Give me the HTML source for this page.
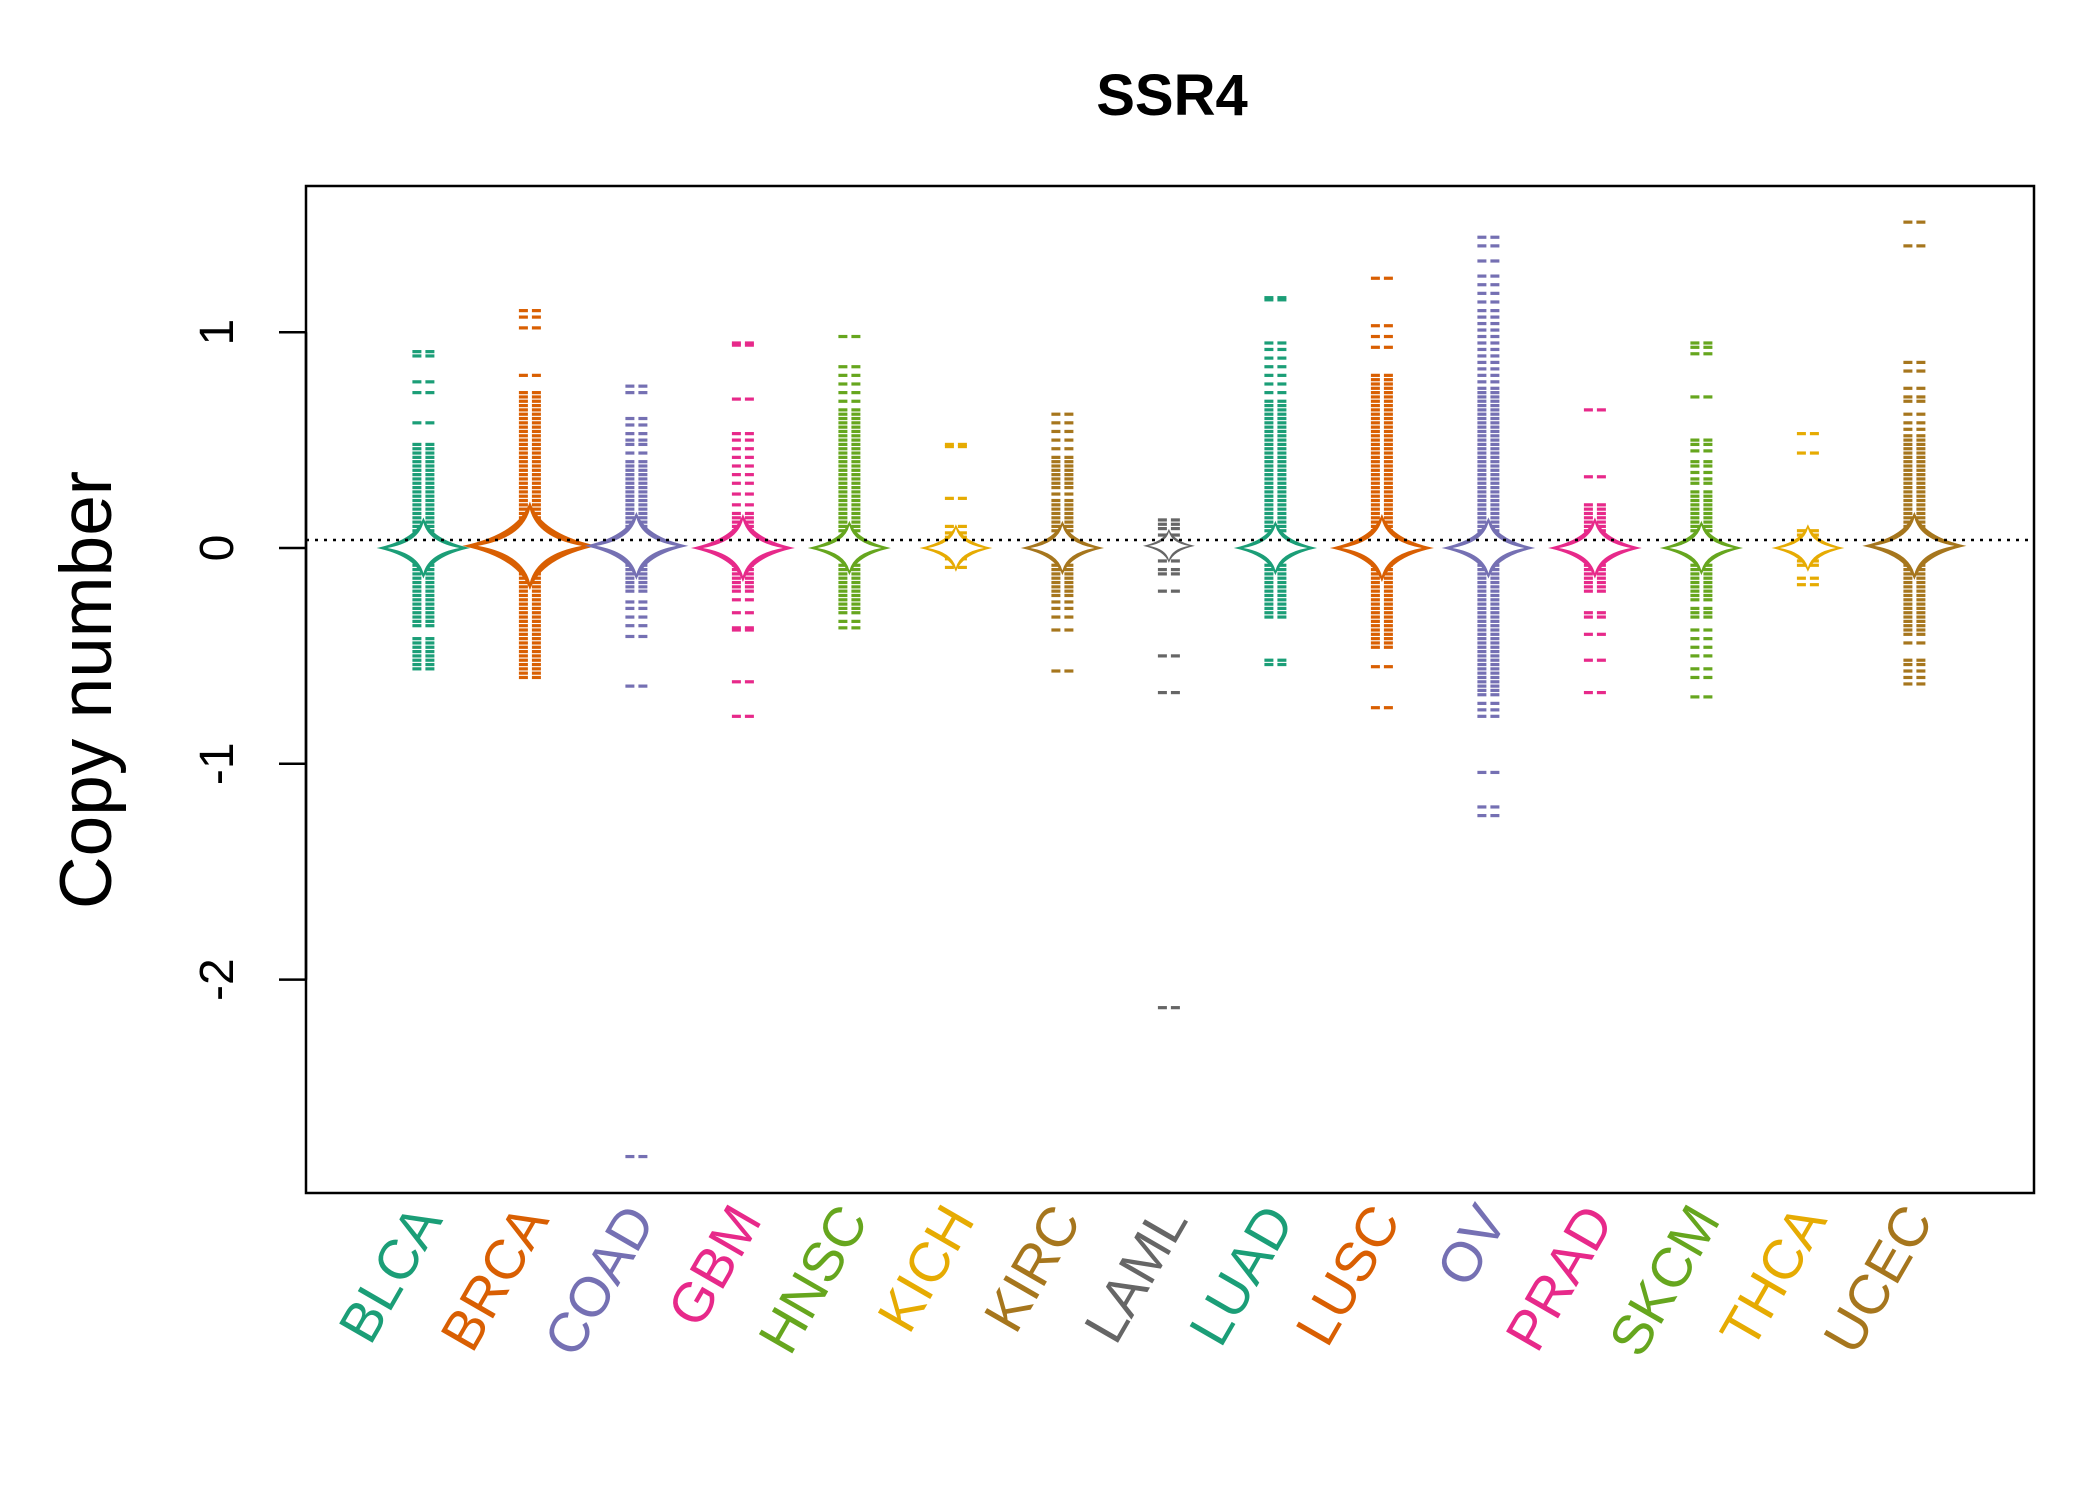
<!DOCTYPE html>
<html><head><meta charset="utf-8"><style>
html,body{margin:0;padding:0;background:#fff}
svg text{font-family:"Liberation Sans",Arial,sans-serif}
</style></head><body>
<svg id="chart" width="2100" height="1500" viewBox="0 0 2100 1500" xmlns="http://www.w3.org/2000/svg">
<rect x="0" y="0" width="2100" height="1500" fill="#fff"/>
<text x="1172" y="115" font-size="58" font-weight="bold" text-anchor="middle">SSR4</text>
<text transform="translate(111,690) rotate(-90)" font-size="73" text-anchor="middle">Copy number</text>
<g id="plot"></g>
<rect x="306" y="186" width="1728" height="1007" fill="none" stroke="#000" stroke-width="2.5"/>
</svg>
<script>
const categories=["BLCA","BRCA","COAD","GBM","HNSC","KICH","KIRC","LAML","LUAD","LUSC","OV","PRAD","SKCM","THCA","UCEC"];
const colors=["#1B9E77","#D95F02","#7570B3","#E7298A","#66A61E","#E6AB02","#A6761D","#666666","#1B9E77","#D95F02","#7570B3","#E7298A","#66A61E","#E6AB02","#A6761D"];
const yTicks=[1,0,-1,-2];
const yTickLabels=["1","0","-1","-2"];
const refLine=0.037;
const medians=[0,0.01,0.01,0,0,0,0,0.01,0,0,0,0,0,0,0.01];
const starSize=[0.9,1.3,1.0,1.0,0.8,0.7,0.8,0.5,0.8,1.0,0.9,0.9,0.8,0.7,1.0];
function s(str){return str.trim().split(/\s+/).map(Number);}
const values=[
s("0.91 0.89 0.77 0.72 0.58 0.48 0.46 0.44 0.42 0.40 0.38 0.36 0.34 0.32 0.30 0.28 0.26 0.24 0.22 0.20 0.18 0.16 0.14 0.12 0.10 0.08 0.06 -0.06 -0.08 -0.10 -0.12 -0.14 -0.16 -0.18 -0.20 -0.22 -0.24 -0.26 -0.28 -0.30 -0.32 -0.34 -0.36 -0.42 -0.44 -0.46 -0.48 -0.50 -0.52 -0.54 -0.56"),
s("1.10 1.07 1.02 0.80 0.72 0.70 0.68 0.66 0.64 0.62 0.60 0.58 0.56 0.54 0.52 0.50 0.48 0.46 0.44 0.42 0.40 0.38 0.36 0.34 0.32 0.30 0.28 0.26 0.24 0.22 0.20 0.18 0.16 0.14 0.12 0.10 0.08 0.06 -0.06 -0.08 -0.10 -0.12 -0.14 -0.16 -0.18 -0.20 -0.22 -0.24 -0.26 -0.28 -0.30 -0.32 -0.34 -0.36 -0.38 -0.40 -0.42 -0.44 -0.46 -0.48 -0.50 -0.52 -0.54 -0.56 -0.58 -0.60"),
s("0.75 0.72 0.60 0.57 0.53 0.50 0.48 0.44 0.40 0.38 0.36 0.34 0.32 0.30 0.28 0.26 0.24 0.22 0.20 0.18 0.16 0.14 0.12 0.10 0.08 -0.08 -0.10 -0.12 -0.14 -0.16 -0.18 -0.20 -0.25 -0.28 -0.32 -0.36 -0.41 -0.64 -2.82"),
s("0.95 0.94 0.69 0.53 0.50 0.46 0.42 0.38 0.34 0.30 0.25 0.20 0.16 0.14 0.12 0.10 0.08 -0.08 -0.10 -0.12 -0.14 -0.16 -0.18 -0.20 -0.24 -0.30 -0.37 -0.38 -0.62 -0.78"),
s("0.98 0.84 0.80 0.76 0.72 0.68 0.64 0.62 0.60 0.58 0.56 0.54 0.52 0.50 0.48 0.46 0.44 0.42 0.40 0.38 0.36 0.34 0.32 0.30 0.28 0.26 0.24 0.22 0.20 0.18 0.16 0.14 0.12 0.10 0.08 -0.08 -0.10 -0.12 -0.14 -0.16 -0.18 -0.20 -0.22 -0.24 -0.26 -0.28 -0.30 -0.34 -0.37"),
s("0.48 0.47 0.23 0.10 0.07 0.05 -0.05 -0.09"),
s("0.62 0.58 0.54 0.50 0.46 0.42 0.40 0.38 0.36 0.34 0.32 0.30 0.28 0.25 0.22 0.20 0.18 0.16 0.14 0.12 0.10 0.08 -0.08 -0.10 -0.12 -0.14 -0.16 -0.18 -0.20 -0.22 -0.25 -0.28 -0.32 -0.38 -0.57"),
s("0.13 0.11 0.09 0.06 -0.06 -0.10 -0.12 -0.20 -0.50 -0.67 -2.13"),
s("1.16 1.15 0.95 0.92 0.88 0.84 0.80 0.76 0.72 0.68 0.66 0.64 0.62 0.60 0.58 0.56 0.54 0.52 0.50 0.48 0.46 0.44 0.42 0.40 0.38 0.36 0.34 0.32 0.30 0.28 0.26 0.24 0.22 0.20 0.18 0.16 0.14 0.12 0.10 0.08 -0.08 -0.10 -0.12 -0.14 -0.16 -0.18 -0.20 -0.22 -0.24 -0.26 -0.28 -0.30 -0.32 -0.52 -0.54"),
s("1.25 1.03 0.98 0.93 0.80 0.78 0.76 0.74 0.72 0.70 0.68 0.66 0.64 0.62 0.60 0.58 0.56 0.54 0.52 0.50 0.48 0.46 0.44 0.42 0.40 0.38 0.36 0.34 0.32 0.30 0.28 0.26 0.24 0.22 0.20 0.18 0.16 0.14 0.12 0.10 0.08 -0.08 -0.10 -0.12 -0.14 -0.16 -0.18 -0.20 -0.22 -0.24 -0.26 -0.28 -0.30 -0.32 -0.34 -0.36 -0.38 -0.40 -0.42 -0.44 -0.46 -0.55 -0.74"),
s("1.44 1.40 1.33 1.26 1.22 1.18 1.14 1.10 1.07 1.04 1.01 0.98 0.95 0.92 0.89 0.86 0.83 0.80 0.77 0.74 0.72 0.70 0.68 0.66 0.64 0.62 0.60 0.58 0.56 0.54 0.52 0.50 0.48 0.46 0.44 0.42 0.40 0.38 0.36 0.34 0.32 0.30 0.28 0.26 0.24 0.22 0.20 0.18 0.16 0.14 0.12 0.10 0.08 -0.08 -0.10 -0.12 -0.14 -0.16 -0.18 -0.20 -0.22 -0.24 -0.26 -0.28 -0.30 -0.32 -0.34 -0.36 -0.38 -0.40 -0.42 -0.44 -0.46 -0.48 -0.50 -0.52 -0.54 -0.56 -0.58 -0.60 -0.62 -0.64 -0.66 -0.68 -0.72 -0.75 -0.78 -1.04 -1.20 -1.24"),
s("0.64 0.33 0.20 0.18 0.16 0.14 0.12 0.10 0.08 -0.08 -0.10 -0.12 -0.14 -0.16 -0.18 -0.20 -0.30 -0.32 -0.40 -0.52 -0.67"),
s("0.95 0.93 0.90 0.70 0.50 0.48 0.45 0.40 0.38 0.35 0.32 0.30 0.26 0.24 0.22 0.20 0.18 0.16 0.14 0.12 0.10 0.08 -0.08 -0.10 -0.12 -0.14 -0.16 -0.18 -0.20 -0.22 -0.24 -0.28 -0.30 -0.32 -0.38 -0.42 -0.46 -0.50 -0.56 -0.60 -0.69"),
s("0.53 0.44 0.08 0.06 -0.06 -0.08 -0.14 -0.17"),
s("1.51 1.40 0.86 0.82 0.74 0.70 0.68 0.62 0.58 0.55 0.52 0.50 0.48 0.46 0.44 0.42 0.40 0.38 0.36 0.34 0.32 0.30 0.28 0.26 0.24 0.22 0.20 0.18 0.16 0.14 0.12 0.10 0.08 -0.08 -0.10 -0.12 -0.14 -0.16 -0.18 -0.20 -0.22 -0.24 -0.26 -0.28 -0.30 -0.32 -0.34 -0.36 -0.38 -0.40 -0.44 -0.52 -0.54 -0.57 -0.60 -0.63")
];
const X0=423.4, XSTEP=106.5, Y0=548, YUNIT=215.8;
function xScale(i){return X0+i*XSTEP;}
function yScale(v){return Y0-v*YUNIT;}
const NS="http://www.w3.org/2000/svg";
const plot=document.getElementById('plot');
const svg=document.getElementById('chart');
function mk(tag,attrs,parent){const e=document.createElementNS(NS,tag);for(const k in attrs)e.setAttribute(k,attrs[k]);(parent||plot).appendChild(e);return e;}
yTicks.forEach((t,i)=>{
  const y=yScale(t);
  const tk=mk('line',{x1:279,x2:306,y1:y,y2:y,stroke:'#000','stroke-width':2.5},svg);
  
  
  const lb=mk('text',{transform:`translate(233,${y}) rotate(-90)`,'font-size':48,'text-anchor':'middle'},svg);
  lb.textContent=yTickLabels[i];
  
  
});
const ax=mk('line',{x1:306,x2:306,y1:yScale(1),y2:yScale(-2),stroke:'#000','stroke-width':2.5},svg);


categories.forEach((c,i)=>{
  const g=mk('g',{});
  
  
  const cx=xScale(i), col=colors[i];
  values[i].forEach(v=>{
    const y=yScale(v);
    const r1=mk('rect',{x:cx-11,y:y-1.6,width:9,height:3.2,fill:col},g);
    
    
    const r2=mk('rect',{x:cx+2,y:y-1.6,width:9,height:3.2,fill:col},g);
    
    
  });
  const cy=yScale(medians[i]), k=starSize[i];
  function star(hw,hh,c){return `M${cx-hw},${cy} Q${cx-c},${cy-c} ${cx},${cy-hh} Q${cx+c},${cy-c} ${cx+hw},${cy} Q${cx+c},${cy+c} ${cx},${cy+hh} Q${cx-c},${cy+c} ${cx-hw},${cy} Z`;}
  const o=mk('path',{d:star(52*k,34*k,9*k),fill:col},g);
  
  
  const w=mk('path',{d:star(40*k,28*k,6*k),fill:'#fff'},g);
  
  
  const lb=mk('text',{transform:`translate(${cx+20},1220) rotate(-60)`,'font-size':56,'text-anchor':'end',fill:col},svg);
  lb.textContent=c;
  
  
});
const rl=mk('line',{x1:306,x2:2034,y1:yScale(refLine),y2:yScale(refLine),stroke:'#000','stroke-width':2.5,'stroke-dasharray':'3 6'});


</script>
</body></html>
